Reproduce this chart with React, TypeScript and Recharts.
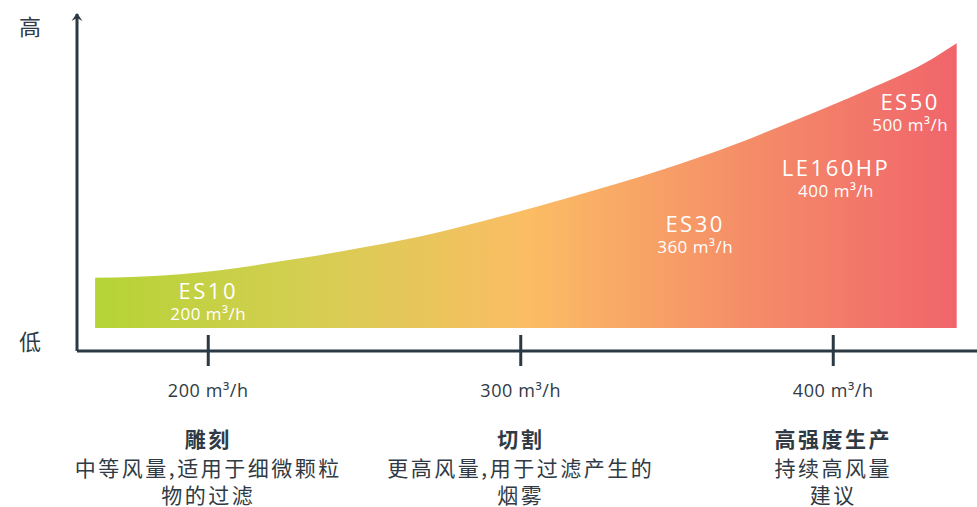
import React from "react";
import {
  ComposedChart,
  Area,
  XAxis,
  YAxis,
  ReferenceDot,
} from "recharts";

// 曲线数据 (风量 m³/h, 相对高度)
const flowValues = [163.8, 191, 229.4, 250.7, 272, 293.4, 314.7, 346.7, 368, 389.4, 410.7, 432, 439.5];
const levelValues = [21.7, 22.8, 27.5, 30.9, 34.9, 39.9, 45.3, 54.2, 61.1, 69.1, 77.4, 86.9, 91.3];
const areaBase = 6.8;

const xTicks = [200, 300, 400];
const xTickLabels = ["200 m³/h", "300 m³/h", "400 m³/h"];
const appTitles = ["雕刻", "切割", "高强度生产"];
const appLines = [
  ["中等风量,适用于细微颗粒", "物的过滤"],
  ["更高风量,用于过滤产生的", "烟雾"],
  ["持续高风量", "建议"],
];

const yTicks = [3.3, 96.7];
const yTickLabels = ["低", "高"];

const modelNames = ["ES10", "ES30", "LE160HP", "ES50"];
const modelFlows = ["200 m³/h", "360 m³/h", "400 m³/h", "500 m³/h"];
const modelX = [200, 355.8, 400.9, 424.6];
const modelY = [14.8, 34.7, 51.3, 70.9];

const data = flowValues.map((x, i) => ({ x, y: levelValues[i] }));

const AXIS = "#2b3945";
const TEXT = "#2f3a44";
const LATIN = "'Open Sans', 'Noto Sans CJK SC', sans-serif";
const CJK = "'Noto Sans CJK SC', 'Open Sans', sans-serif";

function XTick(props: any) {
  const { x, y, payload } = props;
  const i = xTicks.indexOf(payload.value);
  if (i < 0) return null;
  return (
    <g>
      <line x1={x} x2={x} y1={y - 16} y2={y + 15} stroke={AXIS} strokeWidth={3} />
      <text x={x} y={y + 39} textAnchor="middle" dominantBaseline="central"
        fontFamily={LATIN} fontSize={18} letterSpacing={0.6} fill={TEXT}>
        {xTickLabels[i]}
      </text>
      <text x={x} y={y + 87} textAnchor="middle" dominantBaseline="central"
        fontFamily={CJK} fontSize={21} letterSpacing={2.5} fontWeight={700} fill={TEXT}>
        {appTitles[i]}
      </text>
      {appLines[i].map((line, k) => (
        <text key={k} x={x} y={y + 116 + k * 27} textAnchor="middle" dominantBaseline="central"
          fontFamily={CJK} fontSize={21} letterSpacing={2.5} fill={TEXT}>
          {line}
        </text>
      ))}
    </g>
  );
}

function YTick(props: any) {
  const { y, payload } = props;
  const i = yTicks.indexOf(payload.value);
  if (i < 0) return null;
  return (
    <text x={30} y={y} textAnchor="middle" dominantBaseline="central"
      fontFamily={CJK} fontSize={22} fill={TEXT}>
      {yTickLabels[i]}
    </text>
  );
}

function Arrow(props: any) {
  const { cx, cy } = props;
  return <path d={`M${cx - 5.5},${cy + 7} L${cx},${cy - 1} L${cx + 5.5},${cy + 7} L${cx},${cy + 4} Z`} fill={AXIS} />;
}

function modelLabel(i: number) {
  return (props: any) => {
    const { cx, cy } = props;
    return (
      <g>
        <text x={cx} y={cy - 11} textAnchor="middle" dominantBaseline="central"
          fontFamily={LATIN} fontSize={22} letterSpacing={2.5} fill="#fff">
          {modelNames[i]}
        </text>
        <text x={cx} y={cy + 12} textAnchor="middle" dominantBaseline="central"
          fontFamily={LATIN} fontSize={17} fontWeight={500} letterSpacing={0.5} fill="#fff">
          {modelFlows[i]}
        </text>
      </g>
    );
  };
}

export default function App() {
  return (
    <div style={{ position: "absolute", left: 0, top: 0, background: "#fff" }}>
      <ComposedChart width={977} height={507} data={data}
        margin={{ top: 14, right: 0, left: 0, bottom: 0 }}>
        <defs>
          <linearGradient id="flowGrad" x1="0" y1="0" x2="1" y2="0">
            <stop offset="0" stopColor="#b5d336" />
            <stop offset="0.25" stopColor="#d5ce52" />
            <stop offset="0.5" stopColor="#fbbd64" />
            <stop offset="0.75" stopColor="#f58e68" />
            <stop offset="1" stopColor="#f0656b" />
          </linearGradient>
        </defs>
        <XAxis type="number" dataKey="x" domain={[158, 446]} ticks={xTicks}
          allowDataOverflow height={156} tickLine={false} tickSize={0} tickMargin={0}
          axisLine={{ stroke: AXIS, strokeWidth: 3 }} tick={<XTick />} interval={0} />
        <YAxis type="number" domain={[0, 100]} ticks={yTicks} width={77}
          allowDataOverflow tickLine={false} tickSize={0} tickMargin={0}
          axisLine={{ stroke: AXIS, strokeWidth: 3 }} tick={<YTick />} interval={0} />
        <Area type="monotone" dataKey="y" baseValue={areaBase} stroke="none"
          fill="url(#flowGrad)" fillOpacity={1} isAnimationActive={false} />
        <ReferenceDot x={158} y={100} r={0} shape={<Arrow />} ifOverflow="visible" />
        {modelNames.map((name, i) => (
          <ReferenceDot key={name} x={modelX[i]} y={modelY[i]} r={0}
            shape={modelLabel(i)} ifOverflow="visible" />
        ))}
      </ComposedChart>
    </div>
  );
}
